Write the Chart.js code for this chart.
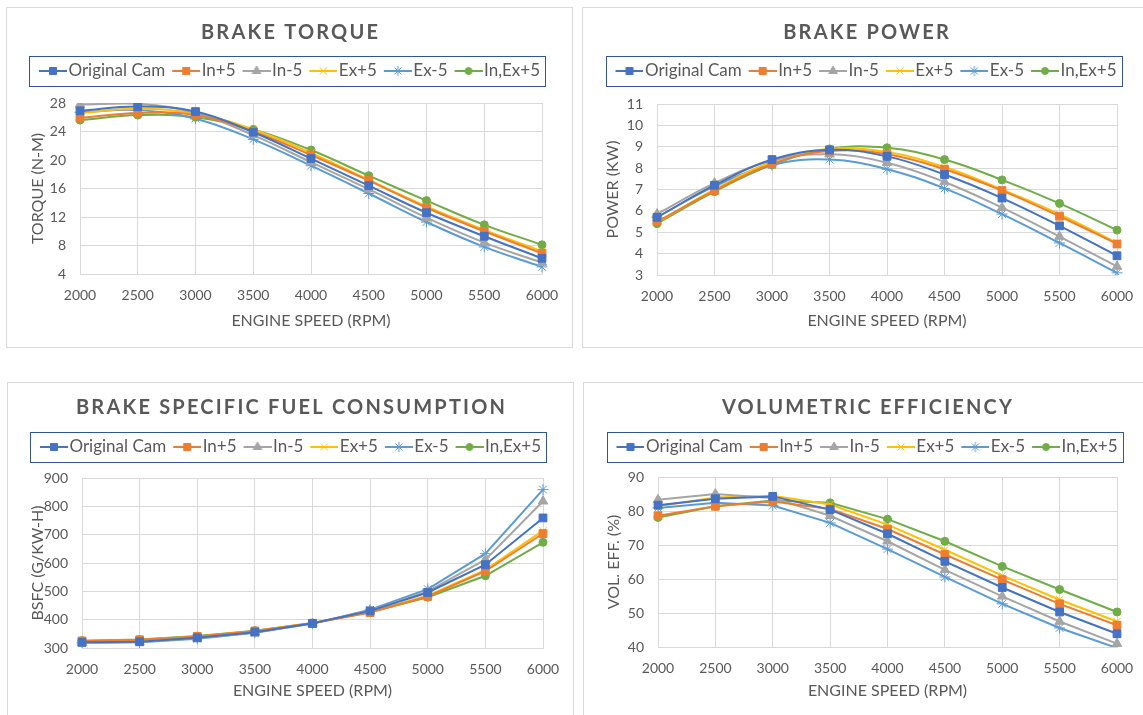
<!DOCTYPE html>
<html>
<head>
<meta charset="utf-8">
<script src="https://cdn.jsdelivr.net/npm/chart.js@4.4.1/dist/chart.umd.min.js"></script>
<style>
  body { margin: 0; background: #fff; width: 1143px; height: 715px; overflow: hidden; position: relative; }
  .panel { position: absolute; border: 1px solid #d9d9d9; background: #fff; }
  .panel canvas { display: block; }
</style>
</head>
<body>
<div class="panel" style="left:6px;top:7px"><canvas id="torque" width="565" height="339"></canvas></div>
<div class="panel" style="left:582px;top:7px"><canvas id="power" width="566" height="339"></canvas></div>
<div class="panel" style="left:7px;top:382px"><canvas id="bsfc" width="565" height="332"></canvas></div>
<div class="panel" style="left:583px;top:382px"><canvas id="vol" width="566" height="332"></canvas></div>
<script>
// engine speed
const rpm = ['2000', '2500', '3000', '3500', '4000', '4500', '5000', '5500', '6000']

const seriesNames = ['Original Cam', 'In+5', 'In-5', 'Ex+5', 'Ex-5', 'In,Ex+5']

// brake torque (N-m)
const torqueOriginal = [26.9, 27.5, 26.8, 23.9, 20.2, 16.4, 12.6, 9.3, 6.2]
const torqueIn5 = [25.9, 26.6, 26.3, 24.0, 20.7, 17.1, 13.3, 10.0, 6.9]
const torqueInM5 = [27.8, 27.9, 26.6, 23.5, 19.7, 15.9, 11.9, 8.4, 5.6]
const torqueEx5 = [26.6, 27.2, 26.5, 24.3, 21.0, 17.2, 13.5, 10.2, 7.2]
const torqueExM5 = [26.7, 27.0, 25.8, 22.9, 19.2, 15.3, 11.3, 7.8, 5.0]
const torqueInEx5 = [25.6, 26.3, 26.0, 24.3, 21.4, 17.8, 14.3, 10.9, 8.1]

// brake power (kW)
const powerOriginal = [5.7, 7.2, 8.4, 8.85, 8.55, 7.7, 6.6, 5.3, 3.9]
const powerIn5 = [5.5, 6.95, 8.2, 8.8, 8.65, 7.95, 6.95, 5.75, 4.45]
const powerInM5 = [5.85, 7.3, 8.35, 8.65, 8.25, 7.35, 6.15, 4.8, 3.4]
const powerEx5 = [5.45, 7.0, 8.3, 8.9, 8.75, 8.05, 7.0, 5.85, 4.5]
const powerExM5 = [5.7, 7.15, 8.15, 8.4, 7.95, 7.05, 5.85, 4.5, 3.1]
const powerInEx5 = [5.4, 6.9, 8.15, 8.9, 8.95, 8.4, 7.45, 6.35, 5.1]

// brake specific fuel consumption (g/kW-h)
const bsfcOriginal = [320, 322, 336, 356, 387, 431, 496, 594, 759]
const bsfcIn5 = [325, 329, 341, 360, 387, 425, 482, 571, 704]
const bsfcInM5 = [318, 321, 334, 355, 386, 432, 500, 612, 818]
const bsfcEx5 = [324, 328, 340, 360, 388, 427, 485, 576, 714]
const bsfcExM5 = [318, 320, 333, 354, 386, 435, 508, 633, 859]
const bsfcInEx5 = [326, 330, 342, 361, 388, 427, 479, 555, 673]

// volumetric efficiency (%)
const volOriginal = [81.7, 83.6, 84.3, 80.4, 73.3, 65.2, 57.5, 50.3, 43.9]
const volIn5 = [78.6, 81.4, 82.8, 80.6, 74.7, 67.2, 59.8, 52.7, 46.4]
const volInM5 = [83.3, 85.0, 83.8, 78.6, 71.1, 62.7, 54.9, 47.5, 41.0]
const volEx5 = [81.4, 84.0, 84.5, 81.9, 76.0, 68.6, 61.0, 53.9, 47.5]
const volExM5 = [80.9, 82.4, 81.6, 76.5, 68.8, 60.6, 52.7, 45.6, 39.7]
const volInEx5 = [78.1, 81.4, 83.1, 82.4, 77.6, 71.1, 63.7, 56.9, 50.3]

const colors = ['#4472C4', '#ED7D31', '#A5A5A5', '#FFC000', '#5B9BD5', '#70AD47']
const markers = ['rect', 'rect', 'triangle', 'crossRot', 'star', 'circle']
const markerSize = [5.5, 5.5, 5.5, 5, 5.5, 4]
const textColor = '#595959'
const gridColor = '#d9d9d9'
const font = 'Lato'
const legendPad = 7

// line + marker pictures for the legend (left 7px kept empty so the
// picture starts right at the legend item's box)
const legendIcons = colors.map((c, i) => {
    const cv = document.createElement('canvas')
    cv.width = 35
    cv.height = 12
    const g = cv.getContext('2d')
    g.strokeStyle = c
    g.fillStyle = c
    g.lineWidth = 2
    g.beginPath()
    g.moveTo(7, 6)
    g.lineTo(35, 6)
    g.stroke()
    g.lineWidth = 1
    Chart.helpers.drawPoint(g, {pointStyle: markers[i], radius: i === 5 ? 3.5 : 5, borderWidth: 1}, 21, 6)
    return cv
})

const panelTitle = {
    id: 'panelTitle',
    afterDraw(chart, args, opts) {
        const ctx = chart.ctx
        ctx.save()
        ctx.font = 'bold 20px ' + font
        ctx.letterSpacing = '2.2px'
        ctx.fillStyle = textColor
        ctx.textAlign = 'center'
        ctx.textBaseline = 'middle'
        ctx.fillText(opts.text, chart.width / 2 + 1.1, opts.y)
        ctx.letterSpacing = '0px'
        ctx.restore()
    }
}

const legendFrame = {
    id: 'legendFrame',
    beforeLayout(chart, args, opts) {
        const lg = chart.legend
        if (lg && !lg._extraFit) {
            const fit = lg.fit
            lg.fit = function () {
                fit.call(this)
                this.height += opts.extra
            }
            lg._extraFit = true
        }
    },
    afterDraw(chart) {
        const boxes = chart.legend.legendHitBoxes
        if (!boxes || !boxes.length) return
        const first = boxes[0]
        const last = boxes[boxes.length - 1]
        const x0 = Math.round(first.left - 9.5)
        const x1 = Math.round(last.left + last.width + 5)
        const yc = first.top + first.height / 2
        const ctx = chart.ctx
        ctx.save()
        ctx.strokeStyle = '#2F5597'
        ctx.lineWidth = 1
        ctx.strokeRect(x0 + 0.5, Math.round(yc - 15) + 0.5, x1 - x0, 30)
        ctx.restore()
    }
}

function makeChart(id, p) {
    const datasets = p.series.map((values, i) => ({
        label: seriesNames[i],
        data: values,
        borderColor: colors[i],
        backgroundColor: colors[i],
        borderWidth: 2,
        pointStyle: markers[i],
        pointRadius: markerSize[i],
        pointBorderWidth: 1,
        pointBorderColor: colors[i],
        pointBackgroundColor: colors[i],
        tension: p.smooth ? 0.4 : 0
    }))

    const canvas = document.getElementById(id)
    const W = canvas.width
    const H = canvas.height
    // legend text sits padding + fontSize/2 below its top, box is fontSize + padding + 10 high
    const padTop = p.legendY - legendPad - 8.5
    const extra = p.plotTop - padTop - (17 + legendPad + 10)
    const xHeight = p.xTitleY + 9 - p.plotBottom
    const padBottom = H - p.plotBottom - xHeight

    return new Chart(canvas, {
        type: 'line',
        data: {labels: rpm, datasets: datasets},
        options: {
            responsive: false,
            animation: false,
            layout: {padding: {left: 0, right: 0, top: padTop, bottom: padBottom}},
            plugins: {
                title: {display: false},
                tooltip: {enabled: false},
                panelTitle: {text: p.title, y: 25},
                legendFrame: {extra: extra},
                legend: {
                    position: 'top',
                    labels: {
                        usePointStyle: true,
                        pointStyleWidth: 21,
                        padding: legendPad,
                        color: textColor,
                        font: {family: font, size: 17},
                        generateLabels(chart) {
                            return Chart.defaults.plugins.legend.labels.generateLabels(chart)
                                .map((item, i) => Object.assign(item, {pointStyle: legendIcons[i]}))
                        }
                    }
                }
            },
            scales: {
                x: {
                    type: 'category',
                    offset: false,
                    grid: {color: gridColor, drawTicks: false, offset: false},
                    border: {color: gridColor},
                    ticks: {color: textColor, font: {family: font, size: 14}, padding: 13, maxRotation: 0, autoSkip: false},
                    title: {display: true, text: 'ENGINE SPEED (RPM)', color: textColor, font: {family: font, size: 16}, padding: 0},
                    afterFit(s) { s.height = xHeight }
                },
                y: {
                    min: p.min,
                    max: p.max,
                    grid: {color: gridColor, drawTicks: false},
                    border: {color: gridColor},
                    ticks: {stepSize: p.step, color: textColor, font: {family: font, size: 14}, padding: 14},
                    title: {display: true, text: p.yTitle, color: textColor, font: {family: font, size: 16},
                        padding: {top: p.yTitleX - 9, bottom: 0}},
                    afterFit(s) { s.width = p.plotLeft }
                },
                // empty right-hand axis, only keeps room right of the plot
                side: {
                    type: 'linear',
                    position: 'right',
                    grid: {display: false},
                    border: {display: false},
                    ticks: {display: false},
                    afterFit(s) { s.width = W - p.plotRight }
                }
            }
        },
        plugins: [panelTitle, legendFrame]
    })
}

makeChart('torque', {
    title: 'BRAKE TORQUE', yTitle: 'TORQUE (N-M)', min: 4, max: 28, step: 4, smooth: true,
    series: [torqueOriginal, torqueIn5, torqueInM5, torqueEx5, torqueExM5, torqueInEx5],
    legendY: 63, plotTop: 95, plotBottom: 266, plotLeft: 73, plotRight: 535,
    yTitleX: 30, xTitleY: 313
})

makeChart('power', {
    title: 'BRAKE POWER', yTitle: 'POWER (KW)', min: 3, max: 11, step: 1, smooth: true,
    series: [powerOriginal, powerIn5, powerInM5, powerEx5, powerExM5, powerInEx5],
    legendY: 63, plotTop: 96, plotBottom: 267, plotLeft: 74, plotRight: 534,
    yTitleX: 29, xTitleY: 313
})

makeChart('bsfc', {
    title: 'BRAKE SPECIFIC FUEL CONSUMPTION', yTitle: 'BSFC (G/KW-H)', min: 300, max: 900, step: 100, smooth: false,
    series: [bsfcOriginal, bsfcIn5, bsfcInM5, bsfcEx5, bsfcExM5, bsfcInEx5],
    legendY: 64, plotTop: 95, plotBottom: 265, plotLeft: 74, plotRight: 535,
    yTitleX: 29, xTitleY: 308
})

makeChart('vol', {
    title: 'VOLUMETRIC EFFICIENCY', yTitle: 'VOL. EFF. (%)', min: 40, max: 90, step: 10, smooth: false,
    series: [volOriginal, volIn5, volInM5, volEx5, volExM5, volInEx5],
    legendY: 64, plotTop: 94, plotBottom: 264, plotLeft: 74, plotRight: 533,
    yTitleX: 29, xTitleY: 308
})
</script>
</body>
</html>
